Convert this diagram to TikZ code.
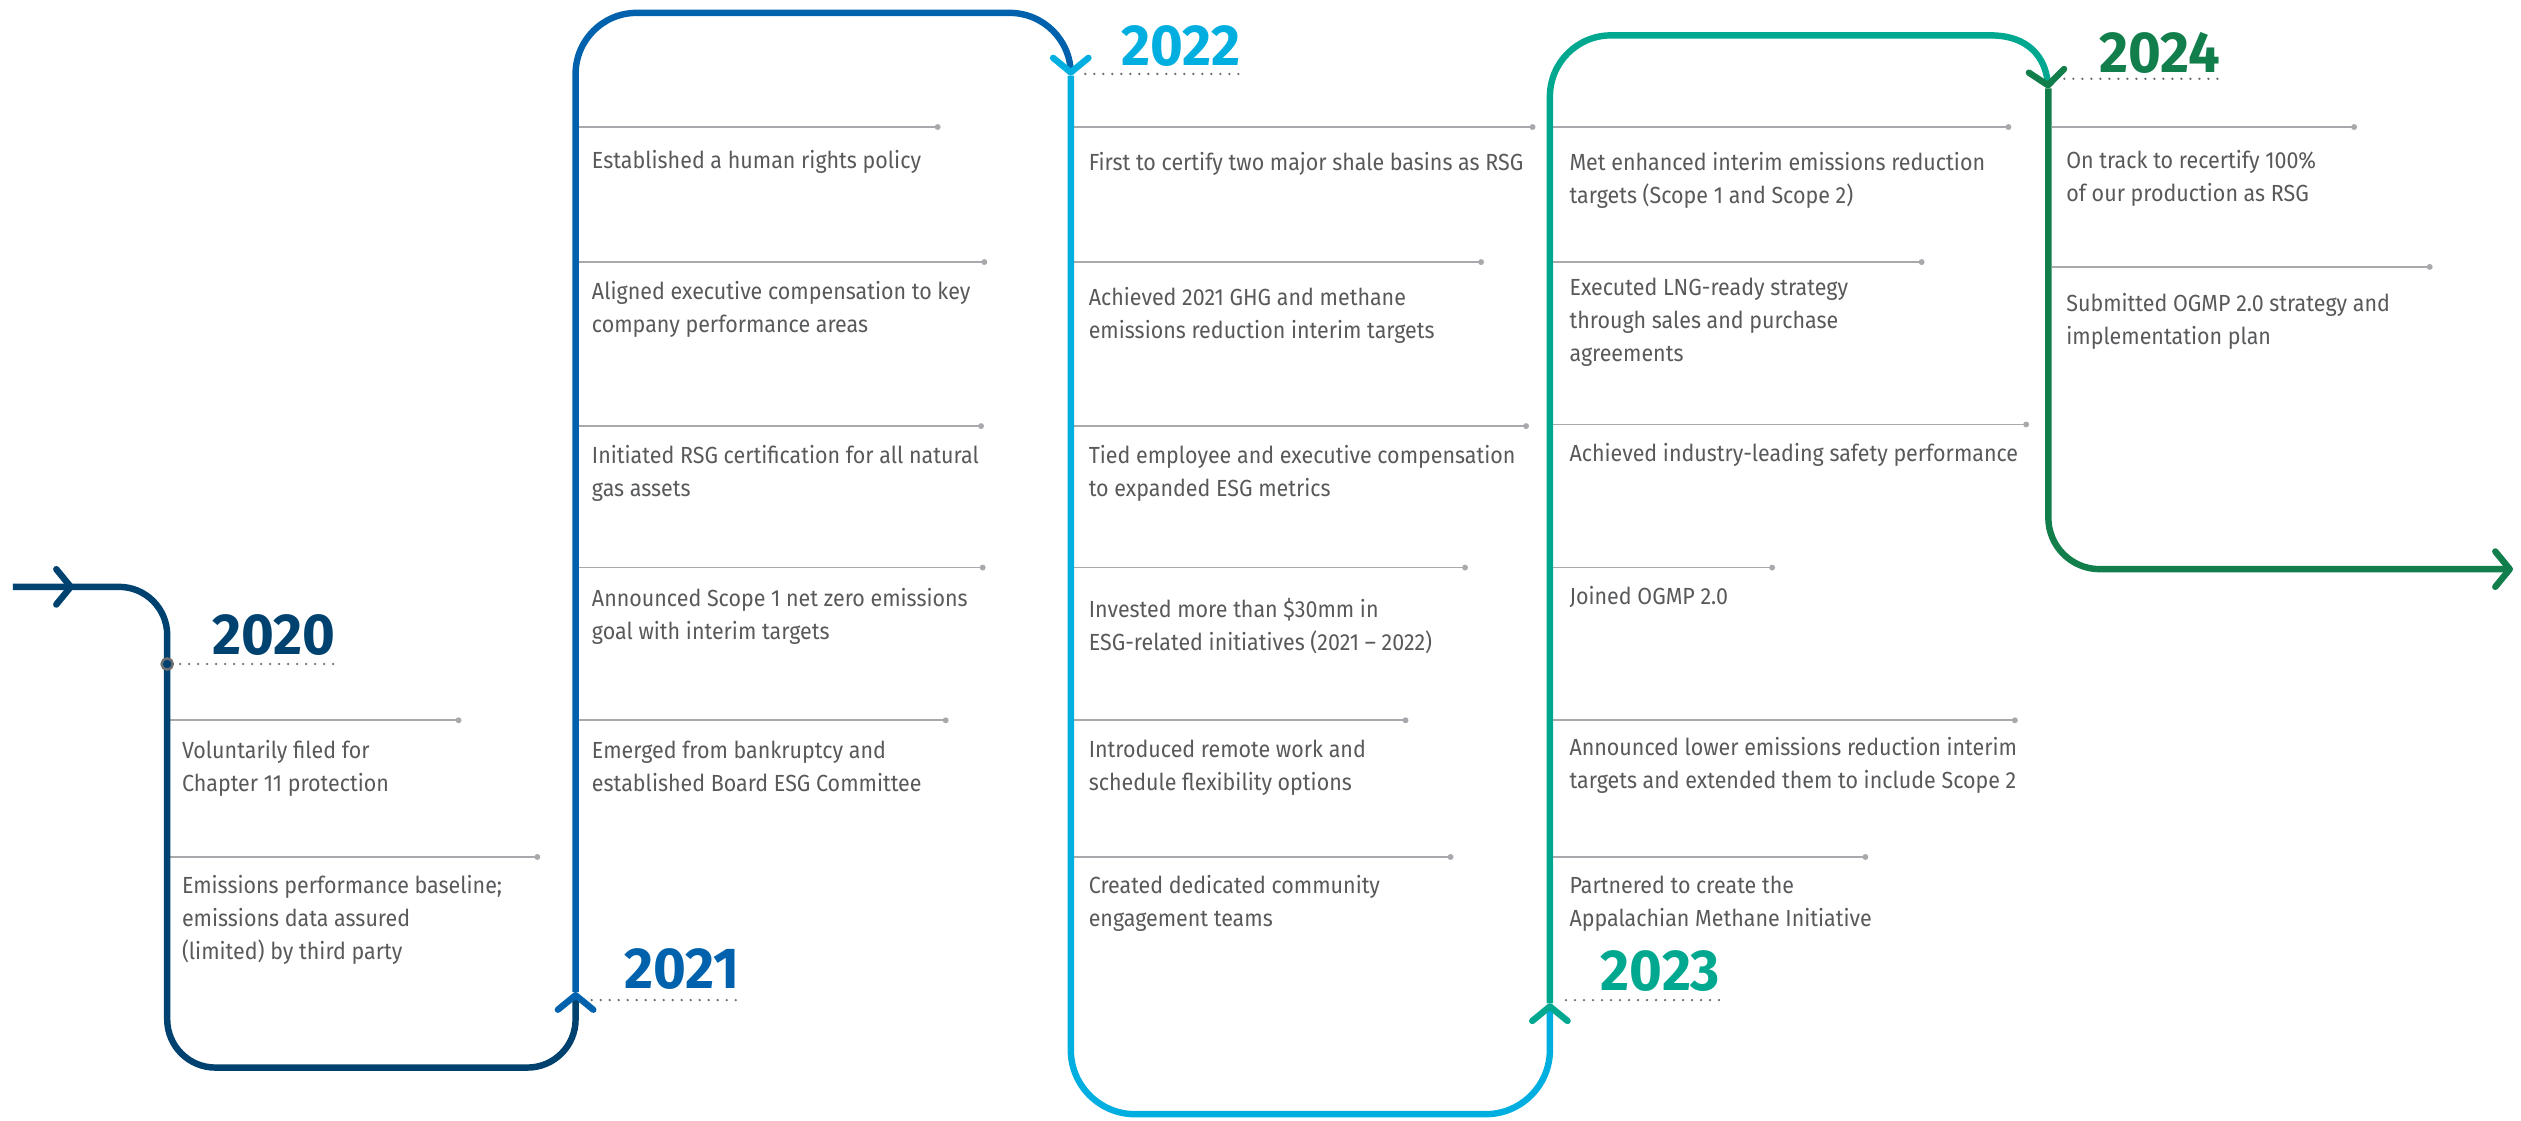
\documentclass[tikz,border=0pt]{standalone}
\usepackage{fontspec}
\setmainfont[FakeStretch=0.92]{Fira Sans}
\newfontfamily\yearfont[FakeStretch=0.97]{Fira Sans}
\usetikzlibrary{arrows.meta}
\definecolor{c20}{HTML}{00426F}
\definecolor{c21}{HTML}{0062AD}
\definecolor{c22}{HTML}{00AEDF}
\definecolor{c23}{HTML}{00A88F}
\definecolor{c24}{HTML}{127E4C}
\definecolor{txtgray}{HTML}{58595B}
\definecolor{rulegray}{HTML}{A7A9AC}
\definecolor{dotgray}{HTML}{6D6E71}
\begin{document}
\begin{tikzpicture}[x=1pt,y=-1pt,
  trail/.style={line width=4pt},
  tipto/.style={-{Straight Barb[length=9pt,width=22pt,round,color=#1]}},
  rule/.style={color=rulegray,line width=1pt,-{Circle[length=3.6pt]}},
  dotrow/.style={color=dotgray,line width=1.6pt,line cap=round,dash pattern=on 0pt off 5.6pt},
  item/.style={anchor=base west,align=left,inner sep=0pt,text=txtgray,font=\fontsize{14.5}{20.5}\selectfont},
  yr/.style={anchor=base east,inner sep=0pt,font=\yearfont\bfseries\fontsize{36}{36}\selectfont}]
\useasboundingbox (0,0) rectangle (1568,697);
% joints where one year hands over to the next
\coordinate (start) at (8,365);
\coordinate (j21) at (358,617);
\coordinate (j22) at (666,47);
\coordinate (j23) at (964,624);
\coordinate (j24) at (1274,55);
\coordinate (finish) at (1563,354);
% rules under the entries
\draw[rule] (106,448) -- (287,448);
\draw[rule] (106,533) -- (336,533);
\draw[rule] (360,79) -- (585,79);
\draw[rule] (360,163) -- (614,163);
\draw[rule] (360,265) -- (612,265);
\draw[rule] (360,353) -- (613,353);
\draw[rule] (360,448) -- (590,448);
\draw[rule] (668,79) -- (955,79);
\draw[rule] (668,163) -- (923,163);
\draw[rule] (668,265) -- (951,265);
\draw[rule] (668,353) -- (913,353);
\draw[rule] (668,448) -- (876,448);
\draw[rule] (668,533) -- (904,533);
\draw[rule] (966,79) -- (1251,79);
\draw[rule] (966,163) -- (1197,163);
\draw[rule] (966,264) -- (1262,264);
\draw[rule] (966,353) -- (1104,353);
\draw[rule] (966,448) -- (1255,448);
\draw[rule] (966,533) -- (1162,533);
\draw[rule] (1276,79) -- (1466,79);
\draw[rule] (1276,166) -- (1513,166);
% the timeline
\draw[trail,c21,tipto=c22,rounded corners=38pt] (j21) -- (358,8) -- (666,8) -- (j22);
\draw[trail,c20,tipto=c21,rounded corners=30pt] (start) -- (104,365) -- (104,664) -- (358,664) -- (j21);
\draw[trail,c20,tipto=c20] (26,365) -- (46,365);
\draw[trail,c23,tipto=c24] (j23) -- (964,60) .. controls (964,39) and (981,22) .. (1002,22)
  -- (1238,22) .. controls (1262,22) and (1272,36) .. (j24);
\draw[trail,c22,tipto=c23,rounded corners=40pt] (j22) -- (666,693) -- (964,693) -- (j23);
\draw[trail,c24,tipto=c24,rounded corners=32pt] (j24) -- (1274,354) -- (finish);
% year markers
\draw[dotrow] (112,413) -- (210,413);
\filldraw[fill=c20,draw=dotgray,line width=1.5pt] (104,413) circle[radius=3.5];
\node (y20) at (209,407) [yr,text=c20] {2020};
\draw[dotrow] (368,622) -- (462,622);
\node (y21) at (460,615) [yr,text=c21] {2021};
\draw[dotrow] (675,46) -- (772,46);
\node (y22) at (772,41) [yr,text=c22] {2022};
\draw[dotrow] (974,622) -- (1070,622);
\node (y23) at (1070,616) [yr,text=c23] {2023};
\draw[dotrow] (1284,49) -- (1380,49);
\node (y24) at (1381,45) [yr,text=c24] {2024};
% entries (placed at the baseline of their last line)
% 2020
\node (e20a) at (113,492.5) [item] {Voluntarily filed for\\Chapter 11 protection};
\node (e20b) at (113,597) [item] {Emissions performance baseline;\\emissions data assured\\(limited) by third party};
% 2021
\node (e21a) at (368,105) [item] {Established a human rights policy};
\node (e21b) at (368,206.5) [item] {Aligned executive compensation to key\\company performance areas};
\node (e21c) at (368,308.5) [item] {Initiated RSG certification for all natural\\gas assets};
\node (e21d) at (368,397.5) [item] {Announced Scope 1 net zero emissions\\goal with interim targets};
\node (e21e) at (368,492.5) [item] {Emerged from bankruptcy and\\established Board ESG Committee};
% 2022
\node (e22a) at (677,106) [item] {First to certify two major shale basins as RSG};
\node (e22b) at (677,210.5) [item] {Achieved 2021 GHG and methane\\emissions reduction interim targets};
\node (e22c) at (677,308.5) [item] {Tied employee and executive compensation\\to expanded ESG metrics};
\node (e22d) at (677,404.5) [item] {Invested more than \$30mm in\\ESG-related initiatives (2021 -- 2022)};
\node (e22e) at (677,491.5) [item] {Introduced remote work and\\schedule flexibility options};
\node (e22f) at (677,576.5) [item] {Created dedicated community\\engagement teams};
% 2023
\node (e23a) at (976,126.5) [item] {Met enhanced interim emissions reduction\\targets (Scope 1 and Scope 2)};
\node (e23b) at (976,225) [item] {Executed LNG-ready strategy\\through sales and purchase\\agreements};
\node (e23c) at (976,287) [item] {Achieved industry-leading safety performance};
\node (e23d) at (976,376) [item] {Joined OGMP 2.0};
\node (e23e) at (976,490.5) [item] {Announced lower emissions reduction interim\\targets and extended them to include Scope 2};
\node (e23f) at (976,576.5) [item] {Partnered to create the\\Appalachian Methane Initiative};
% 2024
\node (e24a) at (1285,125.5) [item] {On track to recertify 100\%\\of our production as RSG};
\node (e24b) at (1285,214.5) [item] {Submitted OGMP 2.0 strategy and\\implementation plan};
\end{tikzpicture}
\end{document}
